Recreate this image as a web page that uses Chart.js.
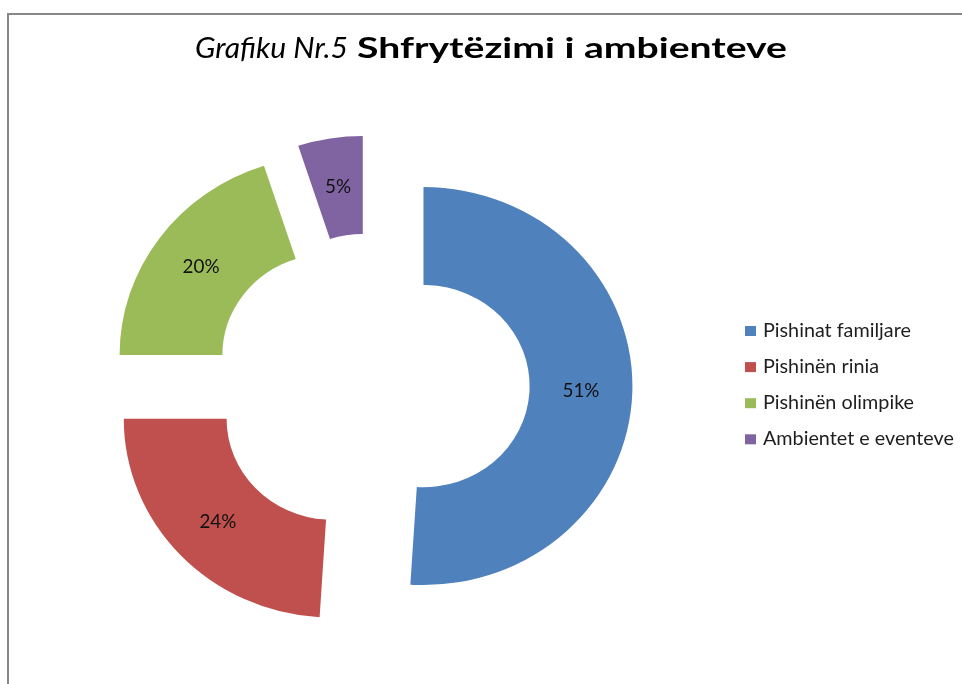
<!DOCTYPE html>
<html>
<head>
<meta charset="utf-8">
<script src="https://cdn.jsdelivr.net/npm/chart.js@4.4.1/dist/chart.umd.min.js"></script>
<style>
  html, body { margin: 0; padding: 0; background: #ffffff; }
  #wrap { position: relative; width: 962px; height: 684px; overflow: hidden; }
  canvas { display: block; }
</style>
</head>
<body>
<div id="wrap"><canvas id="c" width="962" height="684"></canvas></div>
<script>
// ---- data ----
const categories = ['Pishinat familjare', 'Pishinën rinia', 'Pishinën olimpike', 'Ambientet e eventeve'];
const values = [51, 24, 20, 5];
const valueLabels = ['51%', '24%', '20%', '5%'];
const titleItalic = 'Grafiku Nr.5';
const titleBold = 'Shfrytëzimi i ambienteve';

// ---- styles ----
const colors = ['#4F81BD', '#C0504D', '#9BBB59', '#8064A2'];
const FAMILY = 'Lato, Carlito, "Liberation Sans", sans-serif';
const EXPLODE = 50;      // pixel explosion of every slice
const STRETCH_X = 1.05;  // slight horizontal stretch like the original

function fitSize(ctx, text, style, target) {
  ctx.font = style + ' 100px ' + FAMILY;
  return 100 * target / ctx.measureText(text).width;
}
function centerOf(chart) {
  const a = chart.chartArea;
  return { x: (a.left + a.right) / 2, y: (a.top + a.bottom) / 2 };
}
// draw text at a given size, scaled horizontally to a target width
function fitText(ctx, text, font, x, y, targetW) {
  ctx.font = font;
  const w = ctx.measureText(text).width;
  ctx.save();
  ctx.translate(x, y);
  ctx.scale(targetW / w, 1);
  ctx.fillText(text, 0, 0);
  ctx.restore();
}

const explodePlugin = {
  id: 'explode',
  afterDatasetsUpdate(chart) {
    const c = centerOf(chart);
    chart.getDatasetMeta(0).data.forEach(arc => {
      const mid = (arc.startAngle + arc.endAngle) / 2;
      arc.x = c.x + Math.cos(mid) * EXPLODE;
      arc.y = c.y + Math.sin(mid) * EXPLODE;
    });
  },
  beforeDatasetsDraw(chart) {
    const ctx = chart.ctx, c = centerOf(chart);
    ctx.save();
    ctx.translate(c.x, 0);
    ctx.scale(STRETCH_X, 1);
    ctx.translate(-c.x, 0);
  },
  afterDatasetsDraw(chart) {
    const ctx = chart.ctx, c = centerOf(chart);
    ctx.restore();
    // value labels
    ctx.save();
    const s = fitSize(ctx, '51%', 'normal', 37);
    ctx.font = 'normal ' + s.toFixed(2) + 'px ' + FAMILY;
    ctx.fillStyle = '#111111';
    ctx.textAlign = 'center';
    ctx.textBaseline = 'middle';
    chart.getDatasetMeta(0).data.forEach((arc, i) => {
      const p = arc.tooltipPosition(true);
      ctx.fillText(valueLabels[i], c.x + (p.x - c.x) * STRETCH_X, p.y);
    });
    ctx.restore();
  },
  afterDraw(chart) {
    const ctx = chart.ctx;
    ctx.save();
    // frame
    ctx.fillStyle = '#878787';
    ctx.fillRect(7, 13, 2, 700);
    ctx.fillRect(7, 13, 1000, 2);
    // title
    ctx.fillStyle = '#000000';
    ctx.textBaseline = 'alphabetic';
    ctx.textAlign = 'left';
    fitText(ctx, titleItalic, 'italic 28px ' + FAMILY, 195, 58, 153);
    fitText(ctx, titleBold, 'bold 28px ' + FAMILY, 357, 58, 430);
    // legend
    const ls = fitSize(ctx, categories[0], 'normal', 148);
    ctx.font = 'normal ' + ls.toFixed(2) + 'px ' + FAMILY;
    const ds = chart.data.datasets[0];
    chart.data.labels.forEach((lab, i) => {
      const base = 337 + i * 36.1;
      ctx.fillStyle = ds.backgroundColor[i];
      ctx.fillRect(745, base - 11, 11, 10);
      ctx.fillStyle = '#1e1e1e';
      ctx.fillText(lab, 763, base);
    });
    ctx.restore();
  }
};

new Chart(document.getElementById('c'), {
  type: 'doughnut',
  data: {
    labels: categories,
    datasets: [{
      data: values,
      backgroundColor: colors,
      borderWidth: 0
    }]
  },
  options: {
    responsive: false,
    animation: false,
    events: [],
    radius: 199,
    cutout: '50.8%',
    layout: { padding: { left: 0, right: 220, top: 85, bottom: 0 } },
    plugins: {
      legend: { display: false },
      title: { display: false },
      tooltip: { enabled: false }
    }
  },
  plugins: [explodePlugin]
});
</script>
</body>
</html>
